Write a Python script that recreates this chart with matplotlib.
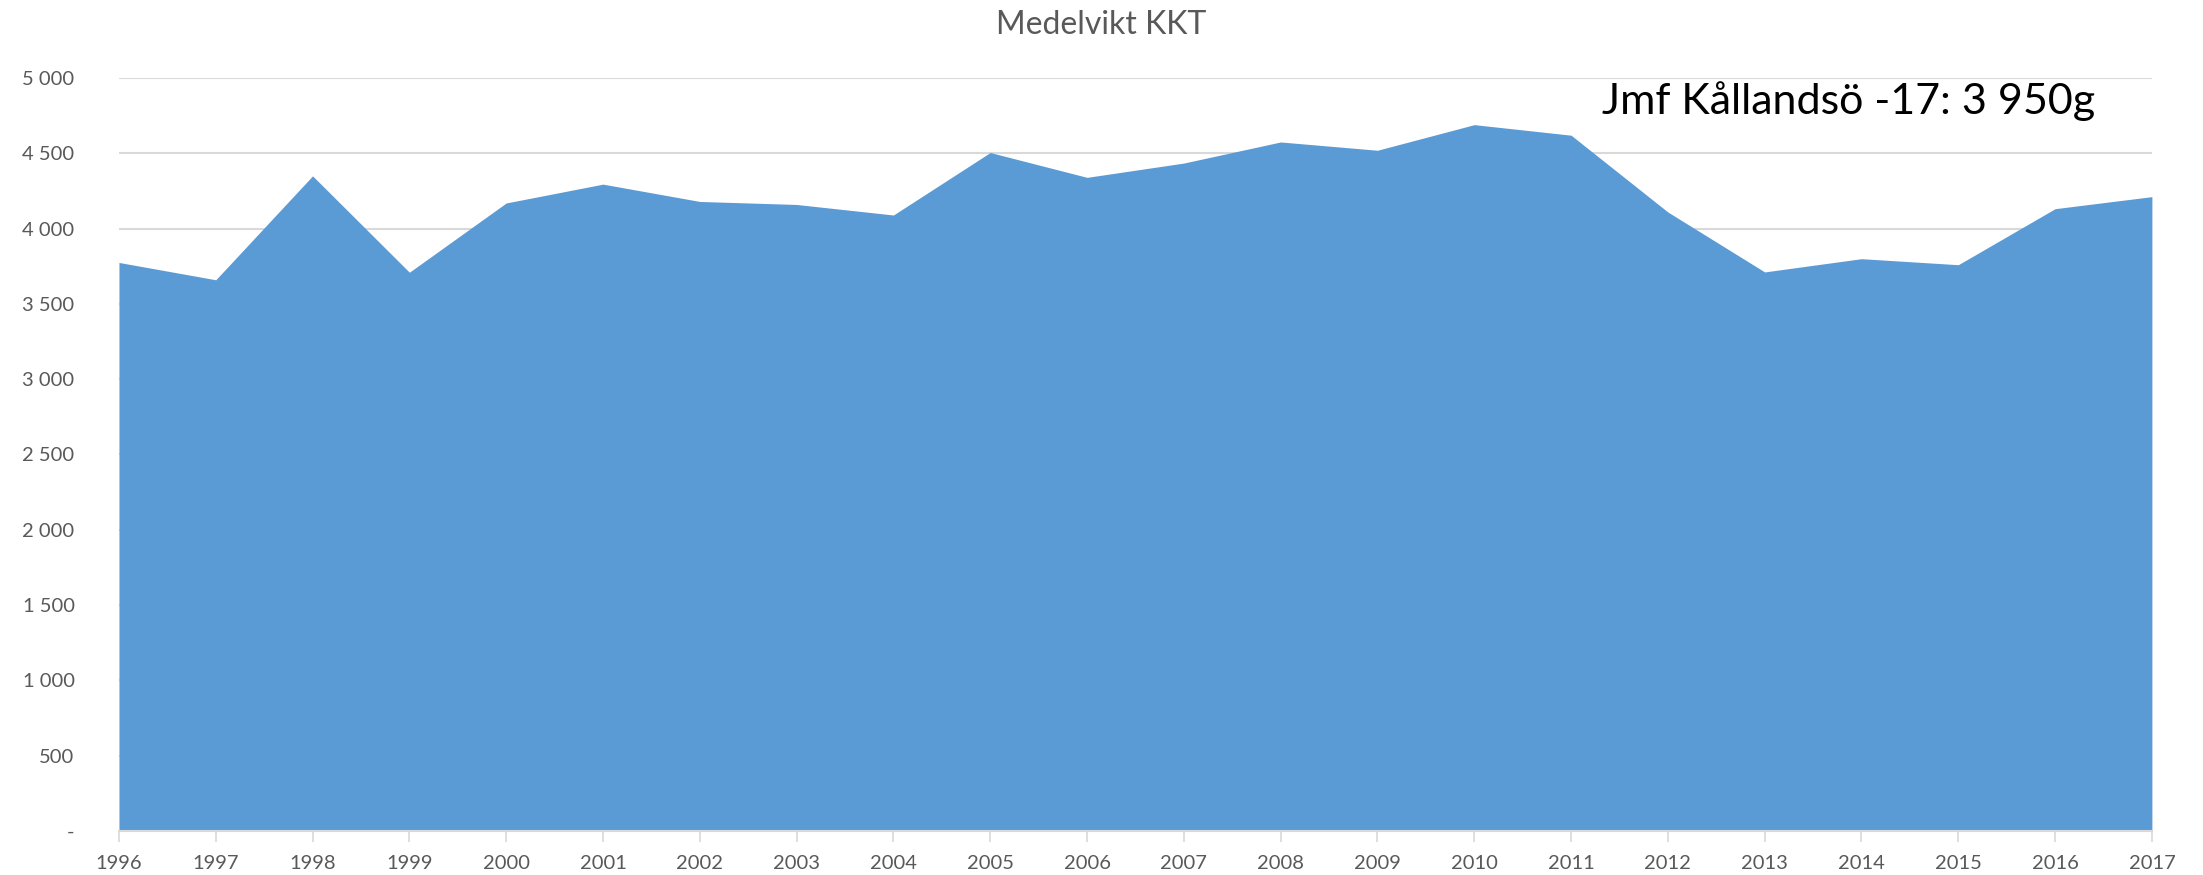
import matplotlib.pyplot as plt
from matplotlib.ticker import FuncFormatter, MultipleLocator

# Medelvikt per år (gram)
years = [1996, 1997, 1998, 1999, 2000, 2001, 2002, 2003, 2004, 2005, 2006,
         2007, 2008, 2009, 2010, 2011, 2012, 2013, 2014, 2015, 2016, 2017]
weights = [3775, 3660, 4350, 3710, 4170, 4295, 4180, 4160, 4090, 4505, 4340,
           4435, 4575, 4520, 4690, 4620, 4110, 3712, 3800, 3760, 4132, 4212]

title = "Medelvikt KKT"
note = "Jmf Kållandsö -17: 3 950g"

plt.rcParams['font.family'] = ['Lato', 'DejaVu Sans']

fig = plt.figure(figsize=(22.03, 8.75), dpi=100)
ax = fig.add_axes([0.054, 0.0503, 0.9228, 0.8606])

ax.fill_between(years, weights, 0, color='#5B9BD5', linewidth=0, zorder=2)

ax.set_xlim(years[0], years[-1])
ax.set_ylim(0, 5000)
ax.yaxis.set_major_locator(MultipleLocator(500))


def fmt_thousands(v, pos):
    if v == 0:
        return "-"
    return f"{int(v):,}".replace(",", " ")


ax.yaxis.set_major_formatter(FuncFormatter(fmt_thousands))
ax.set_xticks(years)
ax.set_xticklabels([str(y) for y in years])

ax.grid(axis='y', color='#D9D9D9', linewidth=1.5, zorder=1)
for side in ['top', 'right', 'left']:
    ax.spines[side].set_visible(False)
ax.spines['bottom'].set_color('#D9D9D9')
ax.spines['bottom'].set_linewidth(1.5)
ax.spines['bottom'].set_zorder(3)

ax.tick_params(axis='y', length=0, pad=32, labelsize=14.5, labelcolor='#595959')
ax.tick_params(axis='x', length=8, width=1.2, color='#D9D9D9', pad=9,
               labelsize=14.5, labelcolor='#595959')

fig.text(0.5, 0.972, title, ha='center', va='center', fontsize=23, color='#595959')
ax.text(0.851, 1.0 - (101 - 78) / 753.0, note, transform=ax.transAxes,
        ha='center', va='center', fontsize=31, color='black', zorder=4)

fig.savefig('out.png', dpi=100, facecolor='white')
